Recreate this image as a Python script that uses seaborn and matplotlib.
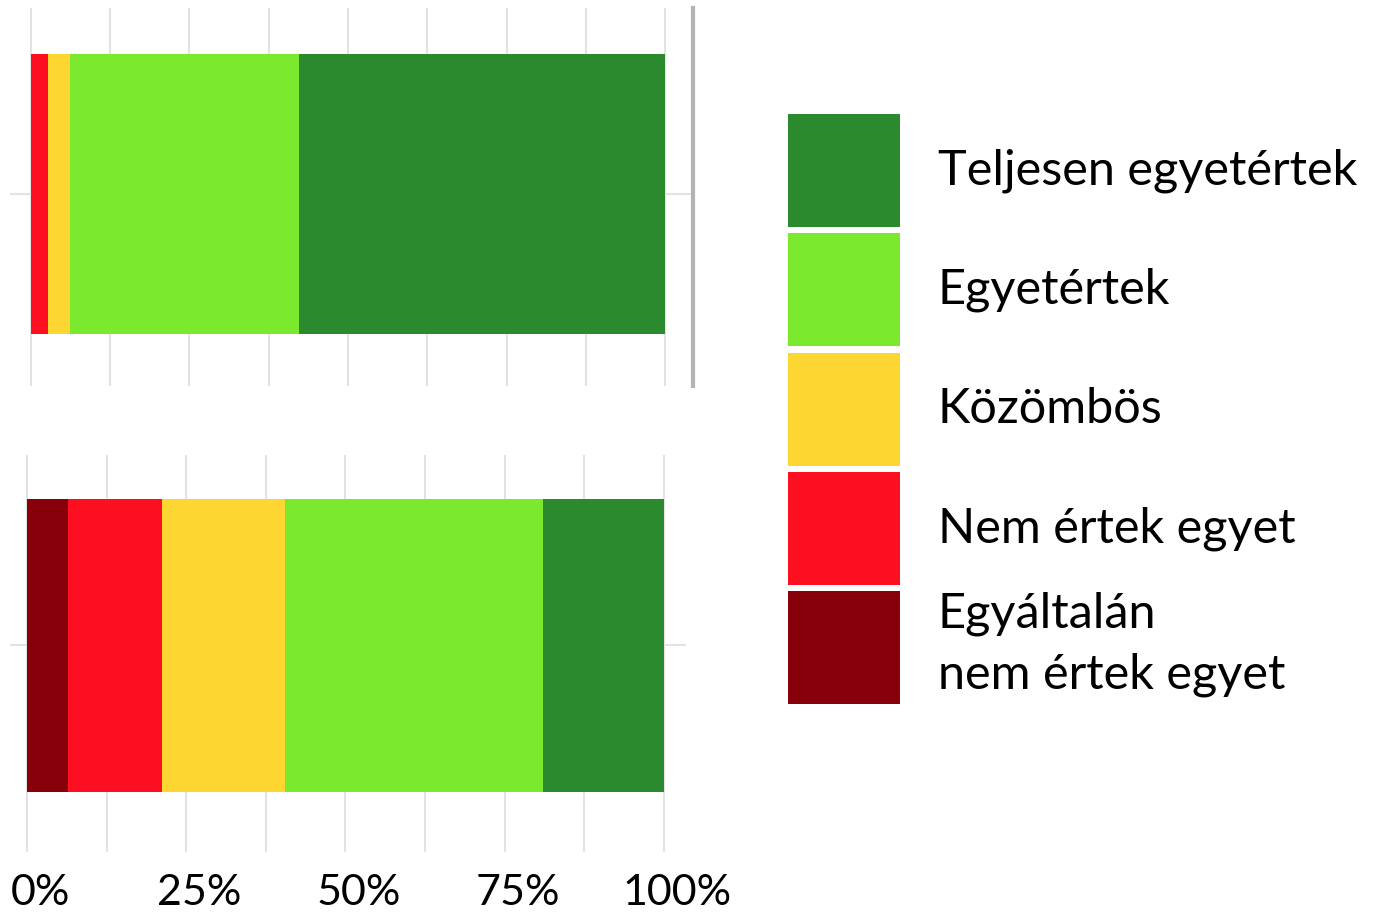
import pandas as pd
import matplotlib.pyplot as plt
import seaborn as sns
from matplotlib.patches import Patch
from matplotlib.transforms import ScaledTranslation

sns.set_style("white")
plt.rcParams['font.family'] = ['Lato', 'DejaVu Sans']
plt.rcParams['text.color'] = 'black'
plt.rcParams['xtick.labelcolor'] = 'black'

# válaszkategóriák (negatívtól pozitívig) és színek
categories = ['Egyáltalán\nnem értek egyet', 'Nem értek egyet', 'Közömbös',
              'Egyetértek', 'Teljesen egyetértek']
colors = ['#870009', '#FC0F20', '#FDD632', '#7BEA2E', '#2B8A2E']

# két kérdés százalékos megoszlása
questions = ['Állítás 1', 'Állítás 2']
q1_values = [0.0, 2.7, 3.5, 36.0, 57.8]
q2_values = [6.4, 14.8, 19.3, 40.6, 18.9]
tick_values = [0, 25, 50, 75, 100]
tick_labels = ['0%', '25%', '50%', '75%', '100%']

fig = plt.figure(figsize=(13.85, 9.18), dpi=100)
ax1 = fig.add_axes([10 / 1385, 1 - 386 / 918, 683 / 1385, 378 / 918])
ax2 = fig.add_axes([10 / 1385, 1 - 852 / 918, 676 / 1385, 397 / 918])

panels = [
    (ax1, questions[0], q1_values, (-3.3, 104.4), (0.508, -0.492), 0.741),
    (ax2, questions[1], q2_values, (-2.7, 103.5), (0.521, -0.479), 0.738),
]

for ax, q, vals, xlim, ylim, bar_h in panels:
    df = pd.DataFrame({'question': q, 'category': categories, 'value': vals})
    df['cum'] = df['value'].cumsum()
    # halmozott sáv: a leghosszabb kumulált érték kerül alulra
    for i in range(len(categories) - 1, -1, -1):
        sub = df.iloc[[i]]
        if sub['value'].iloc[0] <= 0:
            continue
        sns.barplot(data=sub, x='cum', y='question', color=colors[i],
                    saturation=1, width=bar_h, orient='h', ax=ax,
                    linewidth=0, zorder=3)
    ax.set_xlim(*xlim)
    ax.set_ylim(*ylim)
    ax.set_xticks([i * 12.5 for i in range(9)])
    ax.set_yticks([0])
    ax.set_yticklabels([])
    ax.set_xlabel('')
    ax.set_ylabel('')
    ax.grid(True, color='#e3e3e3', linewidth=1.5, zorder=0)
    ax.set_axisbelow(True)
    ax.tick_params(length=0)
    for s in ['top', 'left', 'bottom', 'right']:
        ax.spines[s].set_visible(False)

ax1.set_xticklabels([])
ax1.spines['right'].set_visible(True)
ax1.spines['right'].set_color('#b3b3b3')
ax1.spines['right'].set_linewidth(3)

# alsó tengely feliratai csak a 25%-os lépéseknél
labels_all = []
for i in range(9):
    v = i * 12.5
    labels_all.append(tick_labels[tick_values.index(v)] if v in tick_values else '')
ax2.set_xticklabels(labels_all, fontsize=31, color='black')
ax2.tick_params(axis='x', pad=16)
for lab in ax2.get_xticklabels():
    lab.set_transform(lab.get_transform() + ScaledTranslation(0.13, 0, fig.dpi_scale_trans))

# jelmagyarázat: pozitívtól negatívig
handles = [Patch(facecolor=c, edgecolor='none') for c in colors[::-1]]
leg = fig.legend(handles, categories[::-1], loc='upper left',
                 bbox_to_anchor=(788 / 1385, 1 - 114 / 918), frameon=False,
                 fontsize=35, handlelength=2.30, handleheight=3.2,
                 handletextpad=0.78, labelspacing=0.13, borderpad=0,
                 borderaxespad=0, labelcolor='black')
leg.get_texts()[-1].set_linespacing(1.45)

fig.savefig('out.png', dpi=100)
